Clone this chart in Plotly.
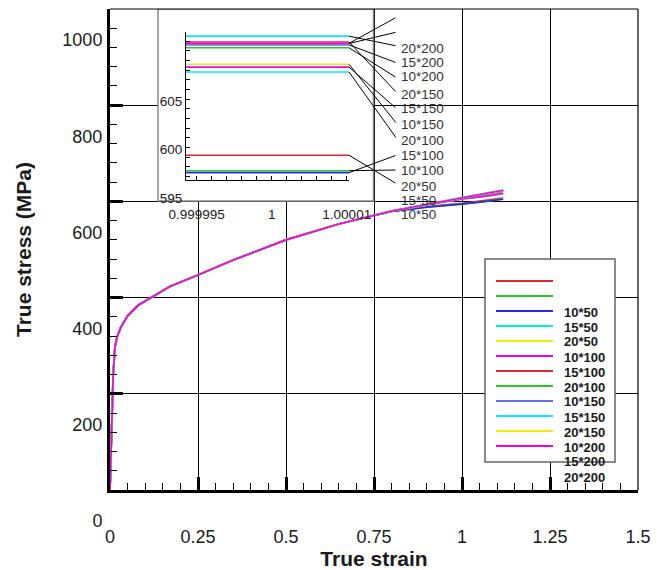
import plotly.graph_objects as go

# ---------------- data ----------------
series_names = ["10*50", "15*50", "20*50", "10*100", "15*100", "20*100",
                "10*150", "15*150", "20*150", "10*200", "15*200", "20*200"]
series_colors = ["#dd2a2a", "#22cc22", "#2a2ae6", "#00eeee", "#eeee00", "#f000f0",
                 "#dd2a2a", "#22cc22", "#6a6af0", "#00eeee", "#eeee00", "#f000f0"]

strain = [0, 0.005, 0.009, 0.014, 0.02, 0.03, 0.05, 0.08, 0.12, 0.17, 0.25,
          0.35, 0.5, 0.65, 0.8, 0.9, 1.0, 1.06, 1.117]

s_10_50 = [0, 130, 240, 297, 318, 337, 362, 384, 402, 423, 447, 478, 520, 553, 579, 589, 596.2, 601, 607]
s_15_50 = [0, 130, 240, 297, 318, 337, 362, 384, 402, 423, 447, 478, 520, 553, 579, 588, 594.6, 599, 605]
s_20_50 = [0, 130, 240, 297, 318, 337, 362, 384, 402, 423, 447, 478, 520, 553, 579, 588, 594.4, 599, 604.5]
s_10_100 = [0, 130, 240, 297, 318, 337, 362, 384, 402, 423, 447, 478, 520, 553, 580, 592, 604.8, 610, 616]
s_15_100 = [0, 130, 240, 297, 318, 337, 362, 384, 402, 423, 447, 478, 520, 553, 580, 592, 605.6, 611, 617]
s_20_100 = [0, 130, 240, 297, 318, 337, 362, 384, 402, 423, 447, 478, 520, 553, 580, 592, 605.3, 610.5, 616.5]
s_10_150 = [0, 130, 240, 297, 318, 337, 362, 384, 402, 423, 447, 478, 520, 553, 580, 594, 607.9, 615, 622]
s_15_150 = [0, 130, 240, 297, 318, 337, 362, 384, 402, 423, 447, 478, 520, 553, 580, 594, 607.3, 614.5, 621.5]
s_20_150 = [0, 130, 240, 297, 318, 337, 362, 384, 402, 423, 447, 478, 520, 553, 580, 594, 607.6, 614.8, 621.8]
s_10_200 = [0, 130, 240, 297, 318, 337, 362, 384, 402, 423, 447, 478, 520, 553, 580, 595, 608.5, 616, 623.5]
s_15_200 = [0, 130, 240, 297, 318, 337, 362, 384, 402, 423, 447, 478, 520, 553, 580, 594, 607.74, 615.5, 623]
s_20_200 = [0, 130, 240, 297, 318, 337, 362, 384, 402, 423, 447, 478, 520, 553, 580, 594, 607.76, 615.6, 623.2]

stress = [s_10_50, s_15_50, s_20_50, s_10_100, s_15_100, s_20_100,
          s_10_150, s_15_150, s_20_150, s_10_200, s_15_200, s_20_200]

# inset: zoomed window around strain = 1
inset_window = [0.99999429, 1.00000515]
inset_xtick_vals = [0.999995, 1.0, 1.000005]
inset_xtick_text = ["0.999995", "1", "1.00001"]
inset_yrange = [593.64, 608.93]

# ---------------- layout constants ----------------
W, H = 664, 570
ML, MR, MT, MB = 110, 26, 9, 80
PW, PH = W - ML - MR, H - MT - MB
FONT = "Liberation Sans, Arial, sans-serif"
TXT = "#1a1a1a"
SHIFT = -31          # annotation text sits ~31px below its anchors
TICK_SHIFT = 31      # same offset for axis tick labels (ticklabelshift sign)


def paper_x(px):
    return (px - ML) / PW


def paper_y(py):
    return (H - MB - py) / PH


# inset axes box (pixels)
IN_L, IN_R, IN_T, IN_B = 186, 349, 32, 180


def inset_py(v):
    lo, hi = inset_yrange
    return IN_T + (hi - v) / (hi - lo) * (IN_B - IN_T)


fig = go.Figure()

# main curves
for name, col, ys in zip(series_names, series_colors, stress):
    fig.add_trace(go.Scatter(x=strain, y=ys, mode="lines", name=name,
                             line=dict(color=col, width=1.7),
                             showlegend=False, xaxis="x", yaxis="y"))

# inset lines (value at strain = 1)
i_one = strain.index(1.0)
inset_vals = [ys[i_one] for ys in stress]
for name, col, v in zip(series_names, series_colors, inset_vals):
    fig.add_trace(go.Scatter(x=inset_window, y=[v, v], mode="lines", name=name,
                             line=dict(color=col, width=1.6),
                             showlegend=False, xaxis="x2", yaxis="y2"))

# ---------------- axes ----------------
fig.update_layout(
    width=W, height=H,
    margin=dict(l=ML, r=MR, t=MT, b=MB, autoexpand=False),
    paper_bgcolor="white", plot_bgcolor="white",
    font=dict(family=FONT, color=TXT),
    showlegend=False,
    xaxis=dict(
        automargin=False,
        range=[0, 1.5], tickmode="linear", tick0=0, dtick=0.25,
        showgrid=True, gridcolor="black", gridwidth=1, zeroline=False,
        showline=True, linecolor="black", linewidth=3,
        ticks="inside", ticklen=13, tickwidth=3, tickcolor="black",
        minor=dict(dtick=0.05, ticks="inside", ticklen=7, tickwidth=1, tickcolor="black", showgrid=False),
        tickfont=dict(size=18, color=TXT), ticklabelstandoff=28,
        title=dict(text="<b>True strain</b>", font=dict(size=21, color=TXT), standoff=6),
        domain=[0, 1],
    ),
    yaxis=dict(
        automargin=False,
        range=[0, 1000], tickmode="linear", tick0=0, dtick=200,
        showgrid=True, gridcolor="black", gridwidth=1, zeroline=False,
        showline=True, linecolor="black", linewidth=3,
        ticks="inside", ticklen=13, tickwidth=3, tickcolor="black",
        minor=dict(dtick=40, ticks="inside", ticklen=7, tickwidth=1, tickcolor="black", showgrid=False),
        tickfont=dict(size=18, color=TXT), ticklabelshift=TICK_SHIFT, ticklabelstandoff=1,
        title=dict(text="<b>True stress (MPa)</b>", font=dict(size=21, color=TXT), standoff=26),
        domain=[0, 1],
    ),
    xaxis2=dict(
        automargin=False,
        domain=[paper_x(IN_L), paper_x(IN_R)], anchor="y2",
        range=inset_window, tickmode="array", tickvals=inset_xtick_vals, ticktext=inset_xtick_text,
        showgrid=False, zeroline=False,
        showline=True, linecolor="black", linewidth=1,
        ticks="inside", ticklen=4, tickwidth=1, tickcolor="black",
        minor=dict(tickmode="array", tickvals=[1 + k * 1e-6 for k in range(-5, 6)],
                   ticks="inside", ticklen=4, tickwidth=1, tickcolor="black"),
        tickfont=dict(size=13.5, color=TXT), ticklabelstandoff=22,
    ),
    yaxis2=dict(
        automargin=False,
        domain=[paper_y(IN_B), paper_y(IN_T)], anchor="x2",
        range=inset_yrange, tickmode="linear", tick0=595, dtick=5,
        showgrid=False, zeroline=False,
        showline=True, linecolor="black", linewidth=1,
        ticks="inside", ticklen=4, tickwidth=1, tickcolor="black",
        minor=dict(dtick=1, ticks="inside", ticklen=4, tickwidth=1, tickcolor="black"),
        tickfont=dict(size=13.5, color=TXT), ticklabelshift=TICK_SHIFT, ticklabelstandoff=0,
    ),
)

shapes = []
# inset white panel (covers main grid, below curves)
shapes.append(dict(type="rect", xref="x", yref="y", layer="between",
                   x0=(158 - ML) / PW * 1.5, x1=0.7485, y0=601, y1=1000,
                   fillcolor="white", line=dict(color="#8a8a8a", width=1.5)))
# top / right frame
shapes.append(dict(type="line", xref="paper", yref="paper", x0=0, x1=1, y0=1, y1=1,
                   line=dict(color="black", width=1.2), layer="above"))
shapes.append(dict(type="line", xref="paper", yref="paper", x0=1, x1=1, y0=0, y1=1,
                   line=dict(color="black", width=1.2), layer="above"))

# hand-built legend
LG_L, LG_R, LG_T, LG_B = 485, 615, 259, 462
shapes.append(dict(type="rect", xref="paper", yref="paper",
                   x0=paper_x(LG_L), x1=paper_x(LG_R), y0=paper_y(LG_B), y1=paper_y(LG_T),
                   fillcolor="white", line=dict(color="#666666", width=1.5), layer="above"))
annotations = []
for i, (name, col) in enumerate(zip(series_names, series_colors)):
    ry = 281 + 15 * i
    shapes.append(dict(type="line", xref="paper", yref="paper",
                       x0=paper_x(496), x1=paper_x(553), y0=paper_y(ry), y1=paper_y(ry),
                       line=dict(color=col, width=1.8), layer="above"))
    annotations.append(dict(xref="paper", yref="paper", x=paper_x(562), y=paper_y(ry),
                            xanchor="left", yanchor="middle", yshift=SHIFT,
                            text="<b>" + name + "</b>", showarrow=False,
                            font=dict(size=13, color=TXT)))

# inset callouts
callout_anchor_y = [184, 170, 155, 139, 124, 109, 93, 78, 63, 46, 32, 17]
CALL_X = 397
for i, (name, v) in enumerate(zip(series_names, inset_vals)):
    hy = inset_py(v)
    annotations.append(dict(x=inset_window[1], y=v, xref="x2", yref="y2", text="",
                            showarrow=True, arrowhead=0, arrowwidth=1, arrowcolor="black",
                            ax=CALL_X - IN_R, ay=callout_anchor_y[i] - hy,
                            axref="pixel", ayref="pixel", standoff=0, startstandoff=0))
    annotations.append(dict(xref="paper", yref="paper", x=paper_x(CALL_X + 2),
                            y=paper_y(callout_anchor_y[i]), yshift=SHIFT,
                            xanchor="left", yanchor="middle", text=name, showarrow=False,
                            font=dict(size=13.5, color="#333333")))

fig.update_layout(shapes=shapes, annotations=annotations)
fig.write_html("out.html")
